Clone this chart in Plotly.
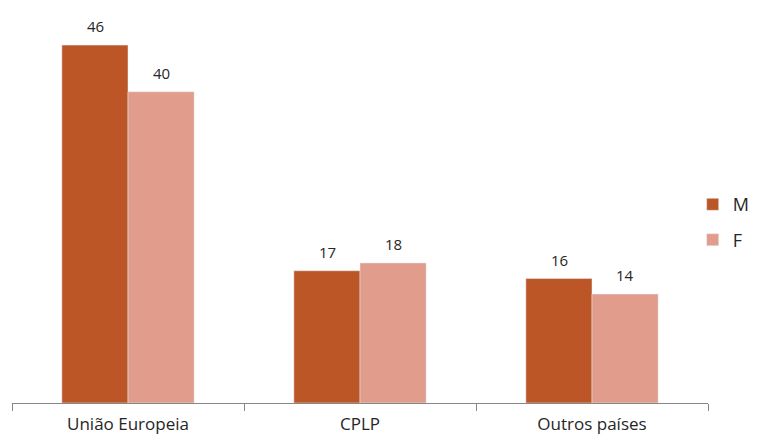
import plotly.graph_objects as go

categories = ["União Europeia", "CPLP", "Outros países"]
values_m = [46, 17, 16]
values_f = [40, 18, 14]

color_m = "#BC5626"
color_f = "#E19C8B"

fig = go.Figure()
fig.add_trace(go.Bar(name="M", x=categories, y=values_m, marker_color=color_m,
                     legendgroup="m"))
fig.add_trace(go.Bar(name="F", x=categories, y=values_f, marker_color=color_f,
                     legendgroup="f"))

for cat, vm, vf in zip(categories, values_m, values_f):
    for v, dx in ((vm, -33), (vf, 33)):
        fig.add_annotation(x=cat, y=v, text=str(v), showarrow=False,
                           xshift=dx, yshift=7, yanchor="bottom",
                           font=dict(size=15, color="#262626"))

fig.update_layout(
    width=779, height=438,
    margin=dict(l=12, r=71, t=14, b=35, autoexpand=False),
    barmode="group", bargap=0.43, bargroupgap=0,
    plot_bgcolor="white", paper_bgcolor="white",
    font=dict(family="Open Sans, Liberation Sans, sans-serif", color="#262626"),
    legend=dict(x=0.978, y=0.465, xanchor="left", yanchor="middle",
                font=dict(size=18, color="#262626"), itemwidth=30,
                tracegroupgap=9, traceorder="grouped"),
    showlegend=True,
)
fig.update_xaxes(showline=True, linecolor="#868686", linewidth=1,
                 ticks="outside", tickson="boundaries", ticklen=7,
                 tickcolor="#868686", tickfont=dict(size=17, color="#262626"),
                 ticklabelstandoff=6)
fig.update_yaxes(range=[0, 50], visible=False, showgrid=False)

fig.write_html("out.html", config={"displayModeBar": False},
               post_script="document.body.style.margin='0';document.body.style.overflow='hidden';")
